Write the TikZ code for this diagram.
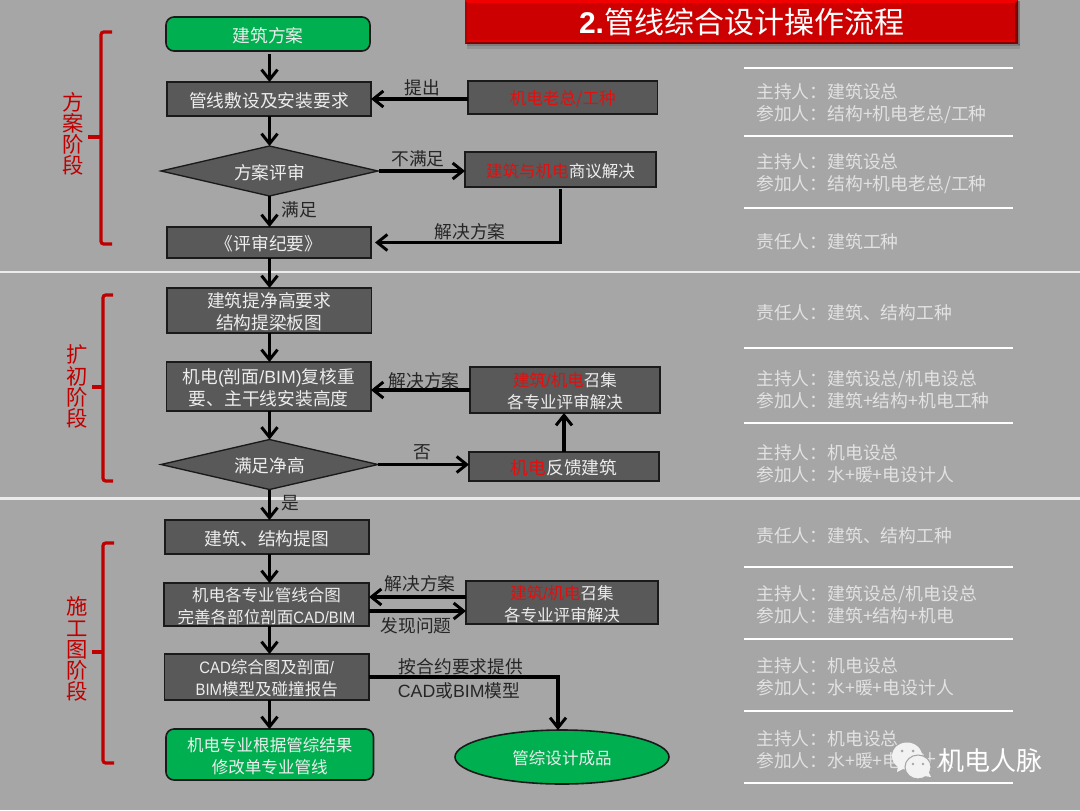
\documentclass[tikz,border=0pt]{standalone}
\usepackage{fontspec}
\setmainfont{Noto Sans CJK SC}
\newfontfamily\lat{Liberation Sans}
\newfontfamily\latc[FakeStretch=0.9]{Liberation Sans}
\usetikzlibrary{arrows.meta,shapes.geometric,calc}
\definecolor{bgc}{HTML}{A6A6A6}
\definecolor{boxc}{HTML}{595959}
\definecolor{edgec}{HTML}{1A1A1A}
\definecolor{greenc}{HTML}{00B050}
\definecolor{redt}{HTML}{E01010}
\definecolor{redb}{HTML}{C00000}
\definecolor{lightt}{HTML}{EDEDED}
\definecolor{sidet}{HTML}{E2E2E2}
\definecolor{labelc}{HTML}{262626}
\newcommand{\rd}[1]{\textcolor{redt}{#1}}
\newcommand{\dn}{\rule{0pt}{1.02em}}
\newcommand{\bx}[7]{\node[#6,minimum width={(#4-#2)*0.75pt},minimum height={(#5-#3)*0.75pt}] (#1) at ({(#2+#4)/2},{(#3+#5)/2}) {\dn #7};}
\tikzset{
  x=0.75pt,y=-0.75pt,
  nodetext/.style={font=\fontsize{13.3pt}{16.4pt}\selectfont,text=lightt,align=center,inner sep=0pt,outer sep=0pt},
  tight/.style={font=\fontsize{12.4pt}{16.4pt}\selectfont},
  darkbox/.style={nodetext,rectangle,draw=edgec,line width=1.4pt,fill=boxc},
  greenbox/.style={nodetext,rectangle,rounded corners=6pt,draw=edgec,line width=1.2pt,fill=greenc},
  decision/.style={nodetext,diamond,draw=edgec,line width=1pt,fill=boxc,aspect=4.34},
  terminal/.style={nodetext,ellipse,draw=edgec,line width=1.2pt,fill=greenc},
  flow/.style={line width=2.4pt,draw=black,-{Straight Barb[length=7.5pt,width=12pt,line width=2.2pt]}},
  lab/.style={font=\fontsize{13.3pt}{16pt}\selectfont,text=labelc,inner sep=0pt,yshift=-0.8pt},
  side/.style={font=\fontsize{13.35pt}{16.5pt}\selectfont,text=sidet,anchor=west,align=left,inner sep=0pt,yshift=-0.8pt},
  phase/.style={font=\fontsize{16pt}{15.8pt}\selectfont,text=redb,align=center,inner sep=0pt},
  brace/.style={draw=redb,line width=2.4pt,rounded corners=2pt},
  rule/.style={draw=white,line width=1.5pt},
  band/.style={draw=white!92!black,line width=2.2pt},
}
\begin{document}
\begin{tikzpicture}
\useasboundingbox (0,0) rectangle (1080,810);
\fill[bgc] (0,0) rectangle (1080,810);
% full-width bands
\coordinate (bl1) at (0,272); \coordinate (br1) at (1080,272);
\coordinate (bl2) at (0,498.5); \coordinate (br2) at (1080,498.5);
\coordinate (vx) at (269.5,0);
\draw[band] (bl1) -- (br1);
\draw[band] (bl2) -- (br2);
% right rules
\foreach \yy in {68,136,208,348,423,567,639,711,783}{\draw[rule] (744,\yy) -- (1013,\yy);}
% title
\fill[black!55,opacity=.35] (467,44) rectangle (1020,49);
\fill[black!60,opacity=.5] (467,44) rectangle (1020,46);
\fill[black!70,opacity=.5] (1018,1) rectangle (1020,45);
\fill[red!95!black] (465,0) rectangle (1018,3);
\fill[red!90!black] (465,40) rectangle (1018,42);
\fill[red!50!black] (465,42) rectangle (1018,44);
\fill[red!50!black] (1015,3) -- (1018,0) -- (1018,44) -- (1015,42) -- cycle;
\fill[red!70!black] (465,0) -- (467,3) -- (467,42) -- (465,44) -- cycle;
\fill[red!80!black] (467,3) rectangle (1015,40);
\node[font=\fontsize{22.5pt}{24pt}\selectfont,text=white,inner sep=0pt] (title) at (741.5,22) {{\lat\bfseries 2.}管线综合设计操作流程};
% nodes
\bx{a}{166}{17}{370}{51}{greenbox}{建筑方案}
\bx{b}{167}{82}{371}{116}{darkbox}{管线敷设及安装要求}
\bx{e}{468}{81}{657.5}{114}{darkbox,tight}{\rd{机电老总/工种}}
\node[decision,minimum width={217*0.75pt},minimum height={50*0.75pt}] (c) at (269.5,171) {\dn 方案评审};
\bx{f}{465}{152}{656}{187}{darkbox,tight}{\rd{建筑与机电}商议解决}
\bx{d}{167}{227}{371}{258}{darkbox}{《评审纪要》}
\bx{g}{167}{288}{371.5}{333}{darkbox}{建筑提净高要求\\结构提梁板图}
\bx{h}{166.5}{362}{371}{411}{darkbox}{机电{\lat(}剖面{\lat/BIM)}复核重\\要、主干线安装高度}
\bx{j}{470}{367}{660}{413}{darkbox,tight}{\rd{建筑{\lat/}机电}召集\\各专业评审解决}
\node[decision,minimum width={217*0.75pt},minimum height={50*0.75pt}] (i) at (269.5,464.5) {\dn 满足净高};
\bx{k}{469}{452}{659}{481}{darkbox}{\rd{机电}反馈建筑}
\bx{l}{165}{520}{369}{554}{darkbox}{建筑、结构提图}
\bx{m}{164}{583}{369}{626}{darkbox,tight}{机电各专业管线合图\\完善各部位剖面{\latc CAD/BIM}}
\bx{n}{466}{581}{658}{624}{darkbox,tight}{\rd{建筑{\latc/}机电}召集\\各专业评审解决}
\bx{o}{164.5}{654}{369}{700}{darkbox,tight}{{\latc CAD}综合图及剖面{\latc/}\\{\latc BIM}模型及碰撞报告}
\bx{p}{166}{729}{373.5}{780}{greenbox,tight}{机电专业根据管综结果\\修改单专业管线}
\node[terminal,tight,minimum width={214*0.75pt},minimum height={54*0.75pt}] (q) at (562,757) {\dn 管综设计成品};
% connectors
\draw[flow] ($(a.south -| vx)+(0,3)$) -- (b.north -| vx);
\draw[flow] (b.south -| vx) -- (c.north);
\draw[flow] (c.south) -- (d.north -| vx);
\draw[flow] (e.west |- b) -- (b.east);
\draw[flow,shorten <=1pt] (c.east) -- (f.west |- c);
\draw[flow,shorten >=3pt] ($(f.south)+(0,2)$) |- (d.east);
\draw[flow] (d.south -| vx) -- (g.north -| vx);
\draw[flow] (g.south -| vx) -- (h.north -| vx);
\draw[flow] (h.south -| vx) -- (i.north);
\draw[flow] (i.east) -- (k.west |- i);
\draw[flow] (k.north) -- (k.north |- j.south);
\draw[flow] (j.west) -- (h.east |- j);
\draw[flow] (i.south) -- (l.north -| vx);
\draw[flow] (l.south -| vx) -- (m.north -| vx);
\draw[flow] (n.west |- 0,597) -- (m.east |- 0,597);
\draw[flow] (m.east |- 0,611) -- (n.west |- 0,611);
\draw[flow] (m.south -| vx) -- (o.north -| vx);
\draw[flow] (o.south -| vx) -- (p.north -| vx);
\draw[flow] (o.east) -| ($(q.north)+(-4,0)$);
% edge labels
\node[lab] (t1) at (422,87) {提出};
\node[lab] (t2) at (418,158) {不满足};
\node[lab] (t3) at (299,209) {满足};
\node[lab] (t4) at (470,231) {解决方案};
\node[lab] (t5) at (424,380) {解决方案};
\node[lab] (t6) at (422,451) {否};
\node[lab] (t7) at (290,502) {是};
\node[lab] (t8) at (420,583) {解决方案};
\node[lab] (t9) at (416,625) {发现问题};
\node[lab] (t10) at (461,666) {按合约要求提供};
\node[lab] (t11) at (459,690) {{\lat CAD}或{\lat BIM}模型};
% phase brackets
\draw[brace] (112,32) -- (101,32) -- (101,244) -- (112,244);
\draw[brace,rounded corners=0pt] (88,137) -- (101,137);
\draw[brace] (113,295) -- (103,295) -- (103,481) -- (113,481);
\draw[brace,rounded corners=0pt] (92,387) -- (103,387);
\draw[brace] (114,543) -- (103,543) -- (103,763) -- (114,763);
\draw[brace,rounded corners=0pt] (92,652) -- (103,652);
\node[phase] (p1) at (73,133.5) {方\\案\\阶\\段};
\node[phase] (p2) at (77,386.5) {扩\\初\\阶\\段};
\node[phase] (p3) at (77,649) {施\\工\\图\\阶\\段};
% right column
\node[side] (s1) at (756,103) {主持人：建筑设总\\参加人：结构+机电老总/工种};
\node[side] (s2) at (756,173) {主持人：建筑设总\\参加人：结构+机电老总/工种};
\node[side] (s3) at (756,241) {责任人：建筑工种};
\node[side] (s4) at (756,312) {责任人：建筑、结构工种};
\node[side] (s5) at (756,388.5) {主持人：建筑设总/机电设总\\参加人：建筑+结构+机电工种};
\node[side] (s6) at (756,463) {主持人：机电设总\\参加人：水+暖+电设计人};
\node[side] (s7) at (756,535) {责任人：建筑、结构工种};
\node[side] (s8) at (756,604) {主持人：建筑设总/机电设总\\参加人：建筑+结构+机电};
\node[side] (s9) at (756,676) {主持人：机电设总\\参加人：水+暖+电设计人};
\node[side] (s10) at (756,749) {主持人：机电设总\\参加人：水+暖+电设计人};
% watermark
\fill[white!95!black] (907,756) ellipse [x radius=15,y radius=13.5];
\fill[white!95!black] (898,766) -- (897,772) -- (905,768) -- cycle;
\fill[black!35] (902,751) circle (1.5) (913,751) circle (1.5);
\draw[bgc,line width=.8pt,fill=white!95!black] (918,767) ellipse [x radius=13,y radius=12];
\fill[white!95!black] (924,776) -- (931,777) -- (928,771) -- cycle;
\fill[black!35] (913,764) circle (1.3) (923,764) circle (1.3);
\node[font=\fontsize{19.5pt}{20pt}\selectfont,text=white,inner sep=0pt] (wm) at (990.5,761) {机电人脉};
\end{tikzpicture}
\end{document}
